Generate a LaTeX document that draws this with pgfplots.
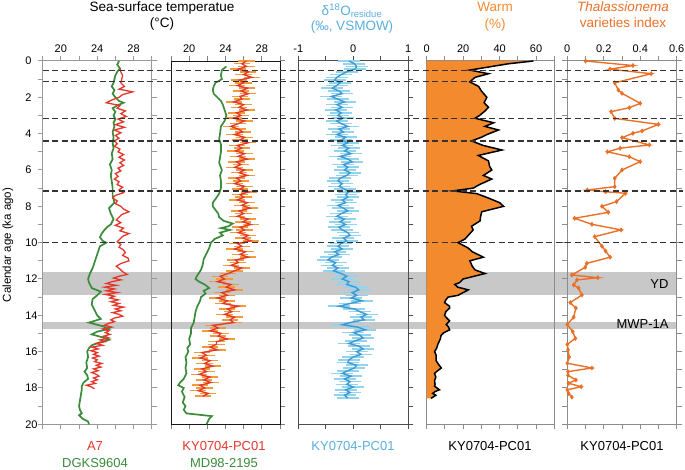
\documentclass[border=0pt]{standalone}
\usepackage{fontspec}
\setmainfont{Liberation Sans}
\usepackage{pgfplots}
\pgfplotsset{compat=1.18}
\usepackage{pgfplotstable}

\definecolor{sstred}{HTML}{E2372A}
\definecolor{sstgreen}{HTML}{3A8C3A}
\definecolor{errorange}{HTML}{F59A3C}
\definecolor{dblue}{HTML}{3D9AD3}
\definecolor{lblue}{HTML}{92D3EE}
\definecolor{titleblue}{HTML}{5AAEDD}
\definecolor{warmfill}{HTML}{F48A2E}
\definecolor{thalorange}{HTML}{EA7028}
\definecolor{bandgray}{HTML}{C8C8C8}

\pgfplotsset{
  panel/.style={
    scale only axis, height=363.3bp, anchor=north west,
    ymin=0, ymax=20, y dir=reverse,
    tick align=outside, major tick length=5bp, minor tick length=5bp,
    xticklabel pos=upper,
    ytick={0,1,...,20}, yticklabels={},
    tick label style={font=\fontsize{11bp}{13bp}\selectfont},
    /pgf/number format/assume math mode=true,
    axis line style={line width=1bp},
    tick style={line width=1bp},
  },
}

% KY0704-PC01 alkenone SST (age ka, SST degC)
\pgfplotstableread[row sep=\\]{
a v\\ 0.00 26.3\\ 0.15 25.8\\ 0.30 26.3\\ 0.45 25.4\\ 0.60 26.5\\ 0.75 26.0\\ 0.90 26.9\\
1.05 25.5\\ 1.20 26.0\\ 1.35 25.3\\ 1.50 26.4\\ 1.65 25.7\\ 1.80 26.5\\ 1.95 25.6\\
2.10 25.8\\ 2.25 24.9\\ 2.40 26.0\\ 2.55 25.5\\ 2.70 26.4\\ 2.85 25.2\\ 3.00 25.7\\
3.15 24.9\\ 3.30 26.1\\ 3.45 25.4\\ 3.60 24.6\\ 3.75 25.4\\ 3.90 25.9\\ 4.05 25.0\\
4.20 26.1\\ 4.35 25.6\\ 4.50 26.5\\ 4.65 25.3\\ 4.80 25.8\\ 4.95 25.1\\ 5.10 26.1\\
5.25 25.4\\ 5.40 26.4\\ 5.55 25.2\\ 5.70 25.7\\ 5.85 25.0\\ 6.00 26.1\\ 6.15 25.5\\
6.30 26.4\\ 6.45 25.2\\ 6.60 25.7\\ 6.75 25.0\\ 6.90 26.1\\ 7.05 25.6\\ 7.20 26.6\\
7.35 25.6\\ 7.50 26.0\\ 7.65 25.3\\ 7.80 26.4\\ 7.95 25.8\\ 8.10 26.7\\ 8.25 25.5\\
8.40 26.0\\ 8.55 25.3\\ 8.70 26.5\\ 8.85 25.9\\ 9.00 26.8\\ 9.15 25.6\\ 9.30 26.1\\
9.45 25.4\\ 9.60 26.5\\ 9.75 25.9\\ 9.90 26.8\\ 10.05 25.3\\ 10.20 25.8\\ 10.35 25.0\\
10.50 26.2\\ 10.65 25.6\\ 10.80 26.5\\ 10.95 25.1\\ 11.10 25.4\\ 11.25 24.6\\ 11.40 25.8\\
11.55 25.0\\ 11.70 24.3\\ 11.85 23.4\\ 12.00 23.9\\ 12.15 23.1\\ 12.30 24.6\\ 12.45 24.1\\
12.60 25.0\\ 12.75 23.6\\ 12.90 24.2\\ 13.05 23.1\\ 13.20 24.2\\ 13.35 23.7\\ 13.50 25.4\\
13.65 24.2\\ 13.80 24.7\\ 13.95 23.9\\ 14.10 25.0\\ 14.25 24.5\\ 14.40 24.9\\ 14.55 22.6\\
14.70 23.2\\ 14.85 22.3\\ 14.99 23.5\\ 15.15 23.2\\ 15.30 24.2\\ 15.45 23.0\\ 15.60 23.0\\
15.75 22.3\\ 15.90 23.1\\ 16.05 21.4\\ 16.20 21.9\\ 16.35 21.2\\ 16.50 22.3\\ 16.65 21.7\\
16.80 22.6\\ 16.95 21.4\\ 17.10 21.9\\ 17.25 21.1\\ 17.40 22.3\\ 17.55 21.6\\ 17.70 22.4\\
17.85 21.2\\ 18.00 21.7\\ 18.15 21.0\\ 18.30 22.1\\ 18.45 21.5\\
}\kysst

% KY0704-PC01 d18O residue
\pgfplotstableread[row sep=\\]{
a v\\ 0.00 -0.08\\ 0.15 0.02\\ 0.30 0.06\\ 0.45 0.03\\ 0.60 -0.12\\ 0.75 -0.22\\ 0.90 -0.30\\
1.05 -0.34\\ 1.20 -0.24\\ 1.35 -0.30\\ 1.50 -0.38\\ 1.65 -0.26\\ 1.80 -0.20\\ 1.95 -0.40\\
2.10 -0.28\\ 2.25 -0.16\\ 2.40 -0.30\\ 2.55 -0.20\\ 2.70 -0.32\\ 2.85 -0.22\\ 3.00 -0.28\\
3.15 -0.18\\ 3.30 -0.30\\ 3.45 -0.22\\ 3.60 -0.10\\ 3.75 -0.26\\ 3.90 -0.18\\ 4.05 -0.30\\
4.20 -0.14\\ 4.35 -0.22\\ 4.50 -0.10\\ 4.65 -0.20\\ 4.80 -0.08\\ 4.95 -0.16\\ 5.10 -0.04\\
5.25 -0.24\\ 5.40 -0.10\\ 5.55 -0.02\\ 5.70 -0.18\\ 5.85 -0.10\\ 6.00 -0.16\\ 6.15 -0.06\\
6.30 -0.12\\ 6.45 -0.24\\ 6.60 -0.28\\ 6.75 -0.20\\ 6.90 -0.26\\ 7.05 -0.16\\ 7.20 -0.08\\
7.35 -0.14\\ 7.50 -0.10\\ 7.65 -0.20\\ 7.80 -0.14\\ 7.95 -0.28\\ 8.10 -0.18\\ 8.25 -0.10\\
8.40 -0.22\\ 8.55 -0.30\\ 8.70 -0.16\\ 8.85 -0.24\\ 9.00 -0.14\\ 9.15 -0.26\\ 9.30 -0.20\\
9.45 -0.10\\ 9.60 -0.06\\ 9.75 -0.18\\ 9.90 -0.12\\ 10.05 -0.22\\ 10.20 -0.28\\ 10.35 -0.20\\
10.50 -0.34\\ 10.65 -0.26\\ 10.80 -0.40\\ 10.95 -0.46\\ 11.10 -0.32\\ 11.25 -0.38\\ 11.40 -0.28\\
11.55 -0.36\\ 11.70 -0.22\\ 11.85 -0.12\\ 12.00 -0.20\\ 12.15 -0.08\\ 12.30 -0.12\\ 12.45 0.04\\
12.60 0.10\\ 12.75 -0.02\\ 12.90 0.06\\ 13.05 -0.04\\ 13.20 0.16\\ 13.35 -0.06\\ 13.50 -0.26\\
13.65 0.02\\ 13.80 0.12\\ 13.95 0.24\\ 14.10 0.14\\ 14.25 0.20\\ 14.40 -0.06\\ 14.52 -0.20\\
14.65 0.08\\ 14.80 0.22\\ 14.95 0.00\\ 15.10 0.12\\ 15.25 0.18\\ 15.40 0.04\\ 15.55 -0.08\\
15.70 0.10\\ 15.85 0.18\\ 16.00 0.06\\ 16.15 0.14\\ 16.30 0.00\\ 16.45 -0.08\\ 16.60 -0.10\\
16.75 0.06\\ 16.90 0.02\\ 17.05 -0.10\\ 17.20 -0.20\\ 17.35 -0.04\\ 17.50 -0.16\\ 17.65 -0.06\\
17.80 -0.12\\ 17.95 0.00\\ 18.10 -0.14\\ 18.25 -0.06\\ 18.40 -0.16\\ 18.55 -0.10\\
}\kydo

% KY0704-PC01 warm-water species (%)
\pgfplotstableread[row sep=\\]{
a v\\ 0.0 58.5\\ 0.15 45\\ 0.5 23.7\\ 0.7 33.9\\ 0.9 26.5\\ 1.15 23.7\\ 1.4 28.5\\ 1.65 30\\
2.0 33\\ 2.3 31.5\\ 2.55 33.9\\ 2.75 32\\ 3.0 29\\ 3.15 26.5\\ 3.4 36.7\\ 3.6 32\\
3.8 39.4\\ 4.05 33\\ 4.2 30\\ 4.4 24.6\\ 4.65 31\\ 4.9 41.3\\ 5.2 28.3\\ 5.5 33.9\\
5.8 34.5\\ 6.0 35.7\\ 6.3 31.1\\ 6.5 35.7\\ 6.8 29\\ 7.0 25.5\\ 7.15 14.4\\ 7.3 27.4\\
7.55 34\\ 7.8 40\\ 8.0 42.2\\ 8.3 30.2\\ 8.6 29.5\\ 8.8 29.3\\ 9.1 24.6\\ 9.3 25.5\\
9.5 23.7\\ 9.8 21\\ 10.0 17.2\\ 10.3 22.8\\ 10.5 25\\ 10.8 31.1\\ 11.0 23.7\\ 11.3 25\\
11.5 26.5\\ 11.7 32\\ 12.0 20\\ 12.2 18\\ 12.3 15.4\\ 12.45 17\\ 12.6 22.8\\ 12.8 19\\
12.9 17.2\\ 13.0 11.7\\ 13.15 10.5\\ 13.3 9.8\\ 13.5 12.5\\ 13.6 12.6\\ 13.8 10.5\\ 14.0 9.8\\
14.15 11\\ 14.3 12.6\\ 14.5 10.7\\ 14.65 12\\ 14.8 12.6\\ 14.95 9.5\\ 15.1 7.9\\ 15.3 7.5\\
15.6 6.1\\ 15.8 5.5\\ 16.0 4.3\\ 16.2 5.2\\ 16.5 5.2\\ 16.7 6.5\\ 16.9 8\\ 17.05 6\\
17.2 4.3\\ 17.4 5\\ 17.6 4.3\\ 17.8 4.6\\ 17.9 4.3\\ 18.1 7\\ 18.2 4.5\\ 18.3 3.3\\
18.4 5\\ 18.5 3.5\\ 18.57 2.4\\
}\warm

\begin{document}
\begin{tikzpicture}
\useasboundingbox (0,0) rectangle (685bp,470bp);

% event bands behind everything
\begin{axis}[scale only axis, hide axis, at={(42.7bp,409bp)}, anchor=north west,
  width=640.3bp, height=363.3bp, xmin=0, xmax=640.3, ymin=0, ymax=20, y dir=reverse]
\addplot[draw=none] coordinates {(0,0) (640.3,20)};
\fill[bandgray] (axis cs:0,11.61) rectangle (axis cs:634,12.9);
\fill[bandgray] (axis cs:0,14.37) rectangle (axis cs:634,14.73);
\end{axis}

% panel 1: A7 and DGKS9604
\begin{axis}[panel, at={(42.7bp,409bp)}, width=109bp,
  xmin=18, xmax=30, xtick={20,24,28}, minor xtick={18,22,26,30},
  ytick={0,2,...,20}, minor ytick={1,3,...,19},
  yticklabels={0,2,4,6,8,10,12,14,16,18,20},
  yticklabel style={inner sep=0pt, text width=12.2bp, align=left},
  axis line style={black!40}, tick style={black!40}]
\addplot[sstgreen, line width=1.7bp, mark=none] table[row sep=\\, x=v, y=a] {
a v\\ 0.0 26.4\\ 0.2 26.2\\ 0.4 26.5\\ 0.6 26.2\\ 0.8 26.0\\ 1.0 25.9\\ 1.2 25.8\\ 1.4 25.6\\
1.6 25.9\\ 1.8 25.7\\ 2.0 26.0\\ 2.2 26.4\\ 2.3 26.9\\ 2.45 26.2\\ 2.6 25.7\\ 2.8 26.0\\
3.0 25.8\\ 3.2 26.0\\ 3.4 25.8\\ 3.6 25.9\\ 3.9 25.7\\ 4.2 25.8\\ 4.5 25.7\\ 4.8 25.8\\
5.1 25.6\\ 5.4 25.7\\ 5.7 25.4\\ 6.0 25.6\\ 6.3 25.5\\ 6.6 25.6\\ 7.0 25.7\\ 7.4 25.7\\
7.8 25.9\\ 8.1 25.3\\ 8.4 25.5\\ 8.7 25.8\\ 9.0 25.5\\ 9.1 25.2\\ 9.3 24.8\\ 9.5 24.5\\
9.7 24.3\\ 9.9 24.6\\ 10.0 25.0\\ 10.2 24.3\\ 10.5 24.1\\ 10.8 23.9\\ 11.1 23.7\\ 11.4 23.5\\
11.7 23.2\\ 12.0 23.0\\ 12.2 23.1\\ 12.5 23.4\\ 12.7 24.4\\ 12.9 24.0\\ 13.1 23.5\\ 13.4 23.4\\
13.7 23.7\\ 14.0 24.0\\ 14.2 24.4\\ 14.4 23.1\\ 14.6 24.6\\ 14.75 25.3\\ 14.9 24.0\\ 15.05 23.4\\
15.2 24.5\\ 15.35 25.3\\ 15.5 24.2\\ 15.65 23.4\\ 15.8 23.1\\ 16.0 22.9\\ 16.3 23.0\\ 16.6 22.8\\
16.9 22.9\\ 17.1 22.6\\ 17.3 22.9\\ 17.5 23.0\\ 17.7 22.5\\ 17.9 22.3\\ 18.1 22.3\\ 18.4 22.2\\
18.7 22.1\\ 19.0 22.0\\ 19.2 22.1\\ 19.4 22.3\\ 19.5 22.0\\ 19.7 22.4\\ 19.85 23.0\\ 20.0 23.1\\
};
\addplot[sstred, line width=1.3bp, mark=none] table[row sep=\\, x=v, y=a] {
a v\\ 0.4 26.5\\ 0.6 26.6\\ 0.8 26.8\\ 1.0 26.7\\ 1.2 26.6\\ 1.4 27.0\\ 1.55 26.4\\ 1.7 27.9\\
1.85 26.8\\ 2.0 26.4\\ 2.15 25.6\\ 2.3 25.0\\ 2.45 26.5\\ 2.6 26.2\\ 2.75 27.1\\ 2.9 26.6\\
3.05 27.2\\ 3.2 26.3\\ 3.35 26.9\\ 3.5 26.0\\ 3.65 27.0\\ 3.8 25.9\\ 3.95 26.6\\ 4.1 26.0\\
4.25 26.4\\ 4.4 25.9\\ 4.55 26.2\\ 4.7 25.9\\ 4.85 26.5\\ 5.0 26.3\\ 5.15 26.9\\ 5.3 26.4\\
5.45 27.0\\ 5.6 26.5\\ 5.75 26.9\\ 5.9 26.3\\ 6.05 26.6\\ 6.2 26.0\\ 6.35 26.3\\ 6.5 25.9\\
6.65 26.4\\ 6.8 26.2\\ 6.95 26.8\\ 7.1 26.4\\ 7.25 26.9\\ 7.4 26.0\\ 7.55 25.7\\ 7.7 26.2\\
7.85 26.0\\ 8.0 26.6\\ 8.15 26.9\\ 8.3 27.5\\ 8.45 26.7\\ 8.6 26.4\\ 8.75 26.1\\ 8.9 26.6\\
9.05 26.0\\ 9.2 26.9\\ 9.35 26.5\\ 9.5 27.5\\ 9.65 26.8\\ 9.8 26.5\\ 9.95 26.2\\ 10.1 26.6\\
10.25 26.4\\ 10.4 26.9\\ 10.55 27.1\\ 10.7 26.8\\ 10.85 27.4\\ 11.0 27.5\\ 11.15 26.6\\ 11.3 26.1\\
11.45 26.5\\ 11.6 26.8\\ 11.75 27.3\\ 11.85 26.4\\ 11.95 25.8\\ 12.05 26.6\\ 12.15 25.6\\ 12.25 25.0\\
12.35 26.1\\ 12.45 24.8\\ 12.55 25.9\\ 12.65 25.0\\ 12.75 26.2\\ 12.85 24.9\\ 12.95 25.9\\ 13.05 25.4\\
13.15 26.3\\ 13.25 25.5\\ 13.35 26.4\\ 13.45 25.8\\ 13.55 26.9\\ 13.65 26.0\\ 13.75 26.6\\ 13.85 25.7\\
13.95 26.4\\ 14.05 26.8\\ 14.15 25.9\\ 14.25 25.5\\ 14.35 25.9\\ 14.45 25.2\\ 14.55 24.8\\ 14.65 25.6\\
14.75 24.6\\ 14.85 25.3\\ 14.95 24.9\\ 15.05 25.4\\ 15.15 24.7\\ 15.25 25.3\\ 15.35 24.3\\ 15.45 24.9\\
15.55 23.9\\ 15.65 24.6\\ 15.75 23.4\\ 15.85 24.1\\ 15.95 23.3\\ 16.05 24.0\\ 16.15 23.6\\ 16.25 24.2\\
16.35 23.5\\ 16.45 24.0\\ 16.55 23.7\\ 16.65 24.5\\ 16.75 23.9\\ 16.85 24.4\\ 16.95 23.6\\ 17.05 24.1\\
17.15 23.4\\ 17.25 23.9\\ 17.35 24.2\\ 17.45 23.6\\ 17.55 24.0\\ 17.65 23.4\\ 17.75 23.8\\ 17.85 22.8\\
17.95 23.4\\ 18.05 23.7\\
};
\end{axis}

% panel 2: KY0704-PC01 and MD98-2195
\begin{axis}[panel, at={(171bp,409bp)}, width=109bp, ytick pos=right,
  xmin=18, xmax=30, xtick={20,24,28}, minor xtick={18,22,26,30},
  axis line style={black!90, line width=0.9bp}]
\addplot[sstgreen, line width=1.7bp, mark=none] table[row sep=\\, x=v, y=a] {
a v\\ 0.3 24.1\\ 0.5 23.6\\ 0.8 23.5\\ 1.0 23.6\\ 1.2 22.9\\ 1.4 22.7\\ 1.6 22.6\\ 1.8 22.7\\
2.0 23.1\\ 2.2 23.5\\ 2.4 23.7\\ 2.7 23.9\\ 3.0 24.1\\ 3.3 23.9\\ 3.6 23.5\\ 4.0 23.4\\
4.3 23.3\\ 4.6 23.5\\ 5.0 23.5\\ 5.3 23.4\\ 5.6 23.3\\ 6.0 23.6\\ 6.3 23.4\\ 6.6 23.5\\
7.0 23.5\\ 7.3 23.3\\ 7.6 22.9\\ 7.8 22.6\\ 8.0 22.6\\ 8.2 22.9\\ 8.4 23.2\\ 8.6 23.3\\
8.8 23.8\\ 8.95 24.8\\ 9.1 24.3\\ 9.2 23.5\\ 9.3 24.5\\ 9.45 23.4\\ 9.6 23.7\\ 9.8 22.8\\
10.0 22.4\\ 10.3 22.2\\ 10.6 21.9\\ 10.9 21.6\\ 11.2 21.5\\ 11.5 21.3\\ 11.8 20.9\\ 12.0 20.7\\
12.15 21.1\\ 12.3 21.7\\ 12.5 22.2\\ 12.65 21.6\\ 12.8 21.8\\ 13.0 21.3\\ 13.2 21.2\\ 13.5 20.9\\
13.8 20.7\\ 14.1 20.6\\ 14.4 20.5\\ 14.7 20.2\\ 15.0 20.2\\ 15.3 20.0\\ 15.6 20.1\\ 15.8 19.8\\
16.0 19.9\\ 16.3 19.6\\ 16.6 19.7\\ 16.9 19.6\\ 17.2 19.7\\ 17.5 19.4\\ 17.7 19.0\\ 17.85 18.8\\
18.0 19.4\\ 18.2 19.2\\ 18.5 19.5\\ 18.8 19.3\\ 19.0 19.6\\ 19.2 19.4\\ 19.4 19.7\\ 19.55 22.5\\
19.7 22.2\\ 20.0 21.9\\
};
\addplot[errorange, line width=0.5bp, mark=none,
  error bars/.cd, x dir=both, x fixed=0.9, error mark=none,
  error bar style={errorange, line width=1.5bp}] table[x=v, y=a] {\kysst};
\addplot[sstred, line width=1.3bp, mark=none] table[x=v, y=a] {\kysst};
\end{axis}

% panel 3: d18O residue
\begin{axis}[panel, at={(298.3bp,409bp)}, width=110bp, ytick pos=right,
  xmin=-1, xmax=1, xtick={-1,0,1}, minor xtick={-0.5,0.5},
  axis line style={black!70}, tick style={black!70}]
\addplot[lblue, line width=0.5bp, mark=none,
  error bars/.cd, x dir=both, x fixed=0.2, error mark=none,
  error bar style={lblue, line width=1.6bp}] table[x=v, y=a] {\kydo};
\addplot[dblue, line width=1.4bp, mark=none] table[x=v, y=a] {\kydo};
\end{axis}

% panel 4: warm species
\begin{axis}[panel, at={(426.7bp,409bp)}, width=127.6bp, ytick=\empty,
  xmin=0, xmax=70, xtick={0,20,40,60}, minor xtick={10,30,50,70},
  axis line style={black!45}, tick style={black!45}]
\addplot[fill=warmfill, draw=none] table[x=v, y=a] {\warm}
  -- (axis cs:0,18.57) -- (axis cs:0,0) -- cycle;
\addplot[black, line width=1.5bp, mark=none] table[x=v, y=a] {\warm};
\end{axis}

% panel 5: Thalassionema varieties index
\begin{axis}[panel, at={(567.3bp,409bp)}, width=109.4bp, clip=false,
  xmin=0, xmax=0.6, xtick={0,0.2,0.4,0.6}, minor xtick={0.1,0.3,0.5},
  xticklabels={0,0.2,0.4,0.6},
  axis line style={black!45}, tick style={black!45}]
\addplot[thalorange, line width=1.4bp, mark=diamond*, mark size=1.4bp] table[row sep=\\, x=v, y=a] {
a v\\ 0 0.10\\ 0.25 0.36\\ 0.45 0.235\\ 0.7 0.46\\ 1.2 0.26\\ 1.6 0.28\\ 1.78 0.30\\ 2.33 0.40\\
2.57 0.34\\ 2.79 0.24\\ 3.16 0.26\\ 3.49 0.50\\ 3.85 0.41\\ 3.98 0.36\\ 4.22 0.30\\ 4.62 0.45\\
4.8 0.29\\ 5.0 0.22\\ 5.27 0.34\\ 5.54 0.40\\ 6.0 0.30\\ 6.46 0.26\\ 6.92 0.26\\ 7.1 0.11\\
7.2 0.21\\ 7.28 0.32\\ 7.74 0.27\\ 8.0 0.19\\ 8.33 0.225\\ 8.66 0.04\\ 8.99 0.135\\ 9.3 0.295\\
9.67 0.15\\ 10.2 0.19\\ 10.46 0.21\\ 10.8 0.235\\ 11.14 0.107\\ 11.36 0.098\\ 11.78 0.025\\ 11.93 0.167\\
12.05 0.053\\ 12.33 0.035\\ 12.5 0.062\\ 12.88 0.08\\ 13.3 0.016\\ 13.6 0.047\\ 14.1 0.035\\ 14.5 0.0\\
14.9 0.03\\ 15.27 0.044\\ 15.6 0.0\\ 15.9 0.004\\ 16.3 0.01\\ 16.64 0.0\\ 16.9 0.135\\ 17.1 0.004\\
17.3 0.004\\ 17.56 0.047\\ 17.74 0.007\\ 17.93 0.076\\ 18.1 0.0\\ 18.3 0.007\\ 18.5 0.025\\
};
\end{axis}

% boundary lines drawn over the panels
\begin{axis}[scale only axis, hide axis, at={(42.7bp,409bp)}, anchor=north west,
  width=640.3bp, height=363.3bp, xmin=0, xmax=640.3, ymin=0, ymax=20, y dir=reverse]
\addplot[draw=none] coordinates {(0,0) (640.3,20)};
\foreach \t in {0.53,1.12,3.15,4.4,7.15,10.0}{
  \edef\temp{\noexpand\draw[black!80, line width=1.3bp, dash pattern=on 6bp off 3.5bp]
    (axis cs:0,\t) -- (axis cs:640.3,\t);}\temp
}
\end{axis}

% texts
\tikzset{lab/.style={inner sep=0pt, anchor=base}}
\node[lab, font=\fontsize{13.5bp}{16bp}\selectfont] at (162bp,458.5bp) {Sea-surface temperatue};
\node[lab, font=\fontsize{13.5bp}{16bp}\selectfont] at (162bp,442bp) {(°C)};
\node[lab, font=\fontsize{13.5bp}{16bp}\selectfont, text=titleblue] at (352bp,454.5bp) {δ\textsuperscript{18}O\textsubscript{residue}};
\node[lab, font=\fontsize{13.5bp}{16bp}\selectfont, text=titleblue] at (352bp,439bp) {(‰, VSMOW)};
\node[lab, font=\fontsize{13.5bp}{16bp}\selectfont, text=warmfill] at (495bp,458bp) {Warm};
\node[lab, font=\fontsize{13.5bp}{16bp}\selectfont, text=warmfill] at (495bp,441bp) {(\%)};
\node[lab, font=\fontsize{13.5bp}{16bp}\selectfont\itshape, text=thalorange] at (623bp,458bp) {Thalassionema};
\node[lab, font=\fontsize{13.5bp}{16bp}\selectfont, text=thalorange] at (623bp,442bp) {varieties index};

\node[lab, font=\fontsize{13bp}{15bp}\selectfont, text=sstred] at (95bp,20bp) {A7};
\node[lab, font=\fontsize{13bp}{15bp}\selectfont, text=sstgreen] at (95bp,3bp) {DGKS9604};
\node[lab, font=\fontsize{13bp}{15bp}\selectfont, text=sstred] at (224bp,20bp) {KY0704-PC01};
\node[lab, font=\fontsize{13bp}{15bp}\selectfont, text=sstgreen] at (224bp,3bp) {MD98-2195};
\node[lab, font=\fontsize{13bp}{15bp}\selectfont, text=titleblue] at (353bp,20bp) {KY0704-PC01};
\node[lab, font=\fontsize{13bp}{15bp}\selectfont] at (490bp,20bp) {KY0704-PC01};
\node[lab, font=\fontsize{13bp}{15bp}\selectfont] at (622bp,20bp) {KY0704-PC01};

\node[inner sep=0pt, anchor=base east, font=\fontsize{13bp}{15bp}\selectfont] at (668.7bp,181.7bp) {YD};
\node[inner sep=0pt, anchor=base east, font=\fontsize{13bp}{15bp}\selectfont] at (668.7bp,141bp) {MWP-1A};

\node[rotate=90, inner sep=0pt, font=\fontsize{11.5bp}{13bp}\selectfont] at (8bp,225bp) {Calendar age (ka ago)};
\end{tikzpicture}
\end{document}
